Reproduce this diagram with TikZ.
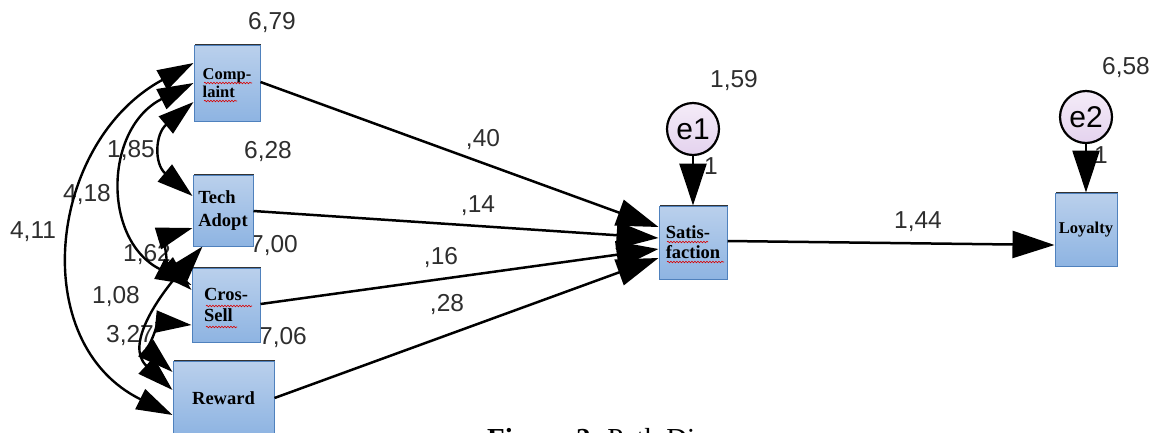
\documentclass[tikz,border=0pt]{standalone}
\usepackage{fontspec}
\setmainfont{Liberation Serif}
\newfontfamily\arialf{Liberation Sans}
\usetikzlibrary{arrows.meta,shadows,decorations.pathmorphing,calc}
\definecolor{boxtop}{RGB}{186,208,236}
\definecolor{boxbot}{RGB}{142,180,226}
\definecolor{boxline}{RGB}{79,129,189}
\definecolor{errtop}{RGB}{244,236,248}
\definecolor{errbot}{RGB}{228,210,238}
\begin{document}
\begin{tikzpicture}[x=1pt,y=-1pt,
  box/.style={draw=boxline, line width=1pt, top color=boxtop, bottom color=boxbot,
    inner sep=0pt, align=left, font=\bfseries\fontsize{18.5}{21}\selectfont,
    general shadow={fill=black!80, shadow xshift=1.3pt, shadow yshift=1.3pt}},
  err/.style={circle, draw=black, line width=2.2pt, top color=errtop, bottom color=errbot,
    minimum size=52pt, inner sep=0pt, font=\arialf\fontsize{30}{30}\selectfont},
  lab/.style={font=\arialf\fontsize{24.5}{25}\selectfont, text=black!82, inner sep=0pt},
  reg/.style={line width=2.5pt, -{Triangle[length=42pt,width=27pt]}},
  cov/.style={line width=2.4pt, {Triangle[length=36pt,width=22pt]}-{Triangle[length=36pt,width=22pt]}},
  wav/.style={red!85!black, line width=0.6pt, decorate, decoration={snake, amplitude=0.8pt, segment length=3pt}}
]
\useasboundingbox (0,0) rectangle (1155,432);
\clip (0,0) rectangle (1155,432);

% value labels (drawn first, boxes cover parts of them)
\node[lab] (l679) at (272,23) {6,79};
\node[lab] (l628) at (268,152) {6,28};
\node[lab] (l700) at (274,246) {7,00};
\node[lab] (l706) at (283,338) {7,06};
\node[lab] (l159) at (734,81) {1,59};
\node[lab] (l658) at (1126,68) {6,58};
\node[lab] (lone1) at (711,166) {1};
\node[lab] (lone2) at (1101,155) {1};
\node[lab] (l40) at (483,140) {,40};
\node[lab] (l14) at (478,206) {,14};
\node[lab] (l16) at (441,258) {,16};
\node[lab] (l28) at (447,305) {,28};
\node[lab] (l144) at (918,222) {1,44};
\node[lab] (l185) at (131,151) {1,85};
\node[lab] (l418) at (87,195) {4,18};
\node[lab] (l411) at (33,232) {4,11};
\node[lab] (l162) at (147,255) {1,62};
\node[lab] (l108) at (116,297) {1,08};
\node[lab] (l327) at (130,336) {3,27};

% boxes
\node[box, minimum width=66pt, minimum height=76pt, font=\bfseries\fontsize{16.5}{18}\selectfont] (cmp) at (227,83) {Comp-\\laint};
\node[box, minimum width=60pt, minimum height=71pt, font=\bfseries\fontsize{18.5}{23}\selectfont] (tch) at (223,210.5) {Tech\\Adopt};
\node[box, minimum width=68pt, minimum height=74pt] (crs) at (226,305) {Cros-\\Sell};
\node[box, minimum width=101pt, minimum height=74pt] (rew) at (223.5,398) {Reward};
\node[box, minimum width=68pt, minimum height=73pt, font=\bfseries\fontsize{18.5}{20}\selectfont] (sat) at (693,242.5) {Satis-\\faction};
\node[box, minimum width=62pt, minimum height=73pt, font=\bfseries\fontsize{16.5}{18}\selectfont] (loy) at (1086,229.5) {Loyalty};

% error terms
\node[err] (e1) at (693,129) {e1};
\node[err] (e2) at (1086,117) {e2};

% spell-check squiggles
\draw[wav] (204,83) -- (252,83);
\draw[wav] (204,101) -- (237,101);
\draw[wav] (206,306) -- (252,306);
\draw[wav] (206,327) -- (237,327);
\draw[wav] (667,242) -- (708,242);
\draw[wav] (667,262) -- (724,262);

% regression paths
\draw[reg] (cmp.east |- 0,82) -- (sat.west |- 0,227);
\draw[reg] (tch.east |- 0,211) -- (sat.west |- 0,238);
\draw[reg] (crs.east |- 0,304) -- (sat.west |- 0,249);
\draw[reg] (rew.east |- 0,398) -- (sat.west |- 0,258);
\draw[reg] (sat.east |- 0,241) -- (loy.west |- 0,245);
\draw[reg] (e1.south) -- (sat.north);
\draw[reg] (e2.south) -- (loy.north);

% covariances
\draw[cov] (cmp.west |- 0,63) .. controls (48,142) and (26,343) .. (rew.west |- 0,415);
\draw[cov] (cmp.west |- 0,83) .. controls (104,128) and (102,240) .. (crs.west |- 0,285);
\draw[cov] (cmp.west |- 0,102) .. controls (155,134) and (154,164) .. (tch.west |- 0,196);
\draw[cov] (tch.west |- 0,228) .. controls (166,236) and (168,268) .. (crs.west |- 0,290);
\draw[cov] ($(tch.south west)+(10,0)$) .. controls (160,295) and (124,345) .. (rew.west |- 0,390);
\draw[cov] (crs.west |- 0,325) .. controls (160,322) and (148,350) .. (rew.west |- 0,372);

% caption (cut by the lower edge)
\node[anchor=base west, inner sep=0pt, font=\fontsize{29}{29}\selectfont] (cap) at (487,448) {\textbf{Figure 2.} Path Diagram};
\end{tikzpicture}
\end{document}
